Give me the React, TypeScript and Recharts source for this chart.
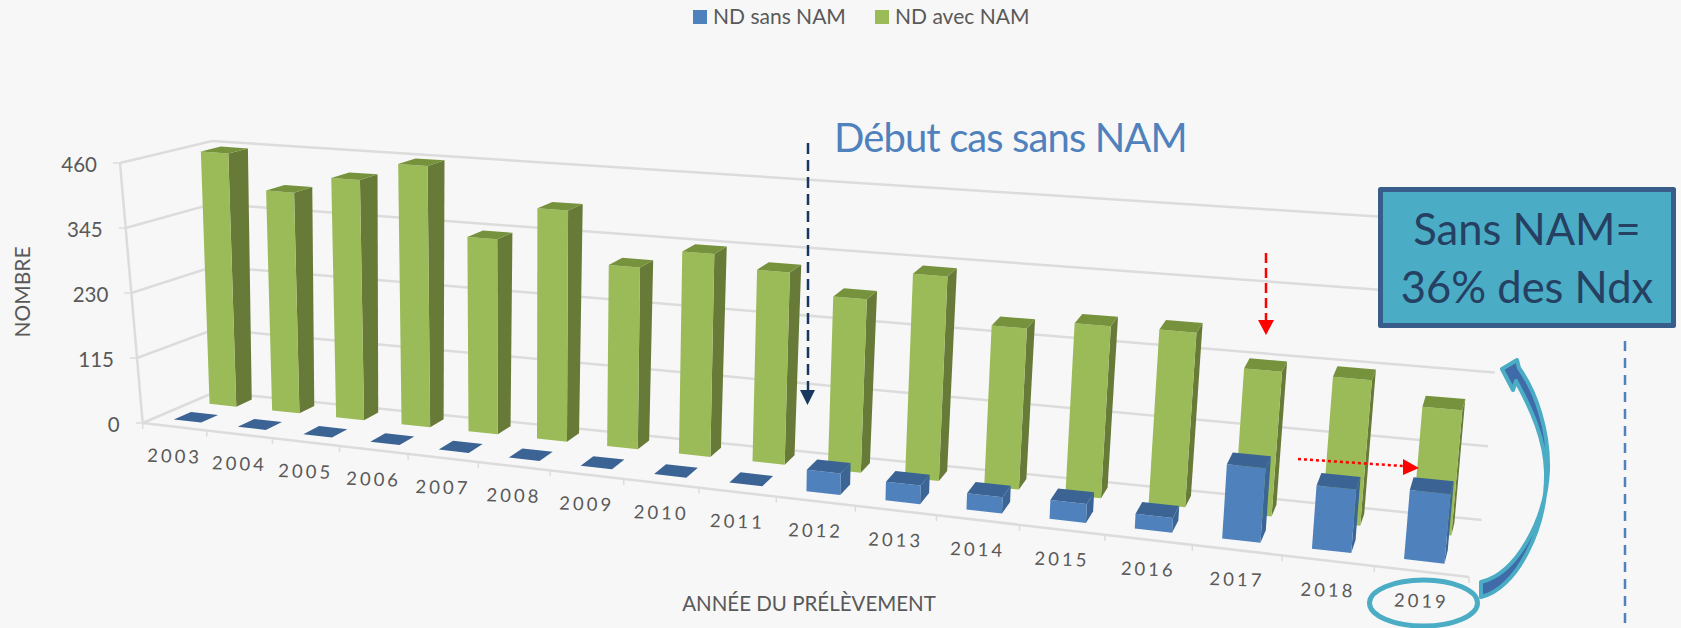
import React from "react";
import { BarChart, Bar, XAxis, YAxis, CartesianGrid, Legend } from "recharts";

const years = ["2003","2004","2005","2006","2007","2008","2009","2010","2011","2012","2013","2014","2015","2016","2017","2018","2019"];
const sansNam = [0,0,0,0,0,0,0,0,0,35,30,26,30,23,115,97,105];
const avecNam = [456,394,425,458,339,398,310,343,322,288,336,262,277,278,228,227,193];
const yTicks = [0,115,230,345,460];

const rows = years.map((y, i) => ({ year: y, sans: sansNam[i], avec: avecNam[i] }));

const W = 1681, H = 628, M = 100;
const PW = W - 2 * M, PH = H - 2 * M;
const BAR = (PW / 17) * 0.43;

type Pt = [number, number];
const FBL: Pt = [142.7, 423], FBR: Pt = [1469, 577], FTL: Pt = [120, 163], FTR: Pt = [1497, 269];
const BBL: Pt = [215, 392], BBR: Pt = [1481.6, 520], BTL: Pt = [212, 141], BTR: Pt = [1508, 225];
const K = 1.23;
const lerp = (a: Pt, b: Pt, t: number): Pt => [a[0] + (b[0] - a[0]) * t, a[1] + (b[1] - a[1]) * t];
const persp = (u: number) => u / (u + K * (1 - u));
function P(u: number, v: number, w: number): Pt {
  const U = persp(u);
  const fb = lerp(FBL, FBR, U), ft = lerp(FTL, FTR, U), bb = lerp(BBL, BBR, U), bt = lerp(BTL, BTR, U);
  return lerp(lerp(fb, ft, w), lerp(bb, bt, w), v);
}
const toU = (x: number) => (x - M) / PW;
const toW = (y: number) => (H - M - y) / PH;
const poly = (pts: Pt[]) => pts.map((p) => p.join(",")).join(" ");
const GRID = "#dcdcdc";
const TXT = "#595959";
const FONT = "Lato, sans-serif";

function Box3D(props: any, v1: number, v2: number, front: string, side: string, top: string) {
  const { x, y, width } = props;
  const u1 = toU(x), u2 = toU(x + width), t = toW(y);
  return (
    <g>
      <polygon points={poly([P(u2, v1, 0), P(u2, v2, 0), P(u2, v2, t), P(u2, v1, t)])} fill={side} />
      <polygon points={poly([P(u1, v1, 0), P(u2, v1, 0), P(u2, v1, t), P(u1, v1, t)])} fill={front} />
      <polygon points={poly([P(u1, v1, t), P(u2, v1, t), P(u2, v2, t), P(u1, v2, t)])} fill={top} />
    </g>
  );
}
const GreenShape = (p: any) => Box3D(p, 0.68, 0.9, "#9bbb59", "#677a38", "#76923c");
const BlueShape = (p: any) => Box3D(p, 0.18, 0.42, "#4f81bd", "#3a6595", "#3b6393");

function GridLine(props: any) {
  const w = toW(props.y1);
  const a = P(0, 0, w), b = P(0, 1, w), c = P(1, 1, w);
  const isFloor = w < 0.001;
  const isTop = w > 0.999;
  const f = P(1, 0, 0);
  return (
    <g key={props.key} fill="none" stroke={GRID} strokeWidth={2.5}>
      <line x1={a[0] - 7} y1={a[1]} x2={a[0]} y2={a[1]} strokeWidth={1.5} />
      <polyline points={poly([a, b, c])} />
      {isFloor && <line x1={a[0]} y1={a[1]} x2={f[0]} y2={f[1]} />}
      {isFloor && <line x1={a[0]} y1={a[1]} x2={a[0]} y2={a[1] + 6} strokeWidth={1.5} />}
      {isFloor && <line x1={f[0]} y1={f[1]} x2={f[0]} y2={f[1] + 6} strokeWidth={1.5} />}
      {isTop && <line x1={a[0]} y1={a[1]} x2={P(0, 0, 0)[0]} y2={P(0, 0, 0)[1]} />}
    </g>
  );
}

function XTick(props: any) {
  const { x, index, payload } = props;
  const band = PW / 17;
  const u = toU(x);
  const t = P(toU(x + band / 2), 0, 0);
  const c = P(u, 0, 0);
  return (
    <g>
      {index < 16 && <line x1={t[0]} y1={t[1]} x2={t[0]} y2={t[1] + 6} stroke={GRID} strokeWidth={1.5} />}
      <text x={c[0]} y={c[1] + 36} textAnchor="middle" fontFamily={FONT} fontSize={18.5} letterSpacing={3} fill={TXT}
        transform={`rotate(2 ${c[0]} ${c[1] + 30})`}>{payload.value}</text>
    </g>
  );
}

function YTick(props: any) {
  const { y, payload } = props;
  const a = P(0, 0, toW(y));
  return (
    <text x={a[0] - 23} y={a[1] + 9} textAnchor="end" fontFamily={FONT} fontSize={20.5} fill={TXT}>{payload.value}</text>
  );
}

function LegendBox(props: any) {
  const items = [...(props.payload || [])].sort((a: any) => (a.value === "ND sans NAM" ? -1 : 1));
  const starts = [693, 875];
  return (
    <svg width={W} height={40} style={{ position: "absolute", left: 0, top: 0, overflow: "visible" }}>
      {items.map((it: any, i: number) => (
        <g key={it.value}>
          <rect x={starts[i]} y={10} width={14} height={14} fill={it.color} />
          <text x={starts[i] + 20} y={23.5} fontFamily={FONT} fontSize={21} fill={TXT}>{it.value}</text>
        </g>
      ))}
    </svg>
  );
}

export default function App() {
  return (
    <div style={{ position: "fixed", left: 0, top: 0, width: W, height: H, background: "#f7f7f7", overflow: "hidden" }}>
      <BarChart width={W} height={H} data={rows} margin={{ top: M, right: M, bottom: M - 1, left: M - 1 }} barSize={BAR} barGap={-BAR}>
        <CartesianGrid vertical={false} horizontal={GridLine as any} />
        <XAxis dataKey="year" height={1} axisLine={false} tickLine={false} interval={0} tick={XTick as any} />
        <YAxis width={1} domain={[0, 460]} ticks={yTicks} axisLine={false} tickLine={false} tick={YTick as any} />
        <Legend content={LegendBox as any} wrapperStyle={{ position: "absolute", left: 0, top: 0, bottom: "auto", width: W, height: 0 }} />
        <Bar dataKey="avec" name="ND avec NAM" fill="#9bbb59" isAnimationActive={false} shape={GreenShape} />
        <Bar dataKey="sans" name="ND sans NAM" fill="#4f81bd" isAnimationActive={false} shape={BlueShape} />
      </BarChart>
      <svg width={W} height={H} style={{ position: "absolute", left: 0, top: 0, pointerEvents: "none" }}>
        <text transform="translate(30 292) rotate(-90)" textAnchor="middle" fontFamily={FONT} fontSize={21} fill={TXT}>NOMBRE</text>
        <text x={809} y={611} textAnchor="middle" fontFamily={FONT} fontSize={20.5} fill={TXT}>ANNÉE DU PRÉLÈVEMENT</text>
        <text x={834} y={152} fontFamily={FONT} fontSize={40} letterSpacing={-0.9} fill="#4f81bd">Début cas sans NAM</text>

        <line x1={808} y1={143} x2={808} y2={392} stroke="#17375e" strokeWidth={2.5} strokeDasharray="11 6" />
        <polygon points="800,390 815,390 807.5,405" fill="#17375e" />

        <line x1={1266} y1={253} x2={1266} y2={322} stroke="#ff0000" strokeWidth={2.5} strokeDasharray="10 5" />
        <polygon points="1258,320 1274,320 1266,335" fill="#ff0000" />
        <line x1={1298} y1={459} x2={1403} y2={466} stroke="#ff0000" strokeWidth={2.5} strokeDasharray="3 3" />
        <polygon points="1403,459 1403,475 1419,468" fill="#ff0000" />

        <rect x={1380.5} y={189.5} width={293} height={136} fill="#4bacc6" stroke="#385d8a" strokeWidth={5} strokeLinejoin="round" />
        <text x={1527} y={245} textAnchor="middle" fontFamily={FONT} fontSize={43.5} fill="#254061">Sans NAM=</text>
        <text x={1527} y={303} textAnchor="middle" fontFamily={FONT} fontSize={43.5} fill="#254061">36% des Ndx</text>

        <line x1={1625} y1={341} x2={1625} y2={628} stroke="#4f81bd" strokeWidth={2.5} strokeDasharray="10 7" />

        <ellipse cx={1423.5} cy={603} rx={54} ry={23} fill="none" stroke="#4bacc6" strokeWidth={5} />

        <path d="M1481 582 C1516 574 1546 520 1548 470 C1549 430 1536 392 1519 368 L1517 360 L1502 369 L1513 390 L1516 381 C1532 410 1545 440 1546 472 C1547 530 1515 590 1481 597 Z"
          fill="#3f6ca8" stroke="#4bacc6" strokeWidth={4} strokeLinejoin="round" />
      </svg>
    </div>
  );
}
